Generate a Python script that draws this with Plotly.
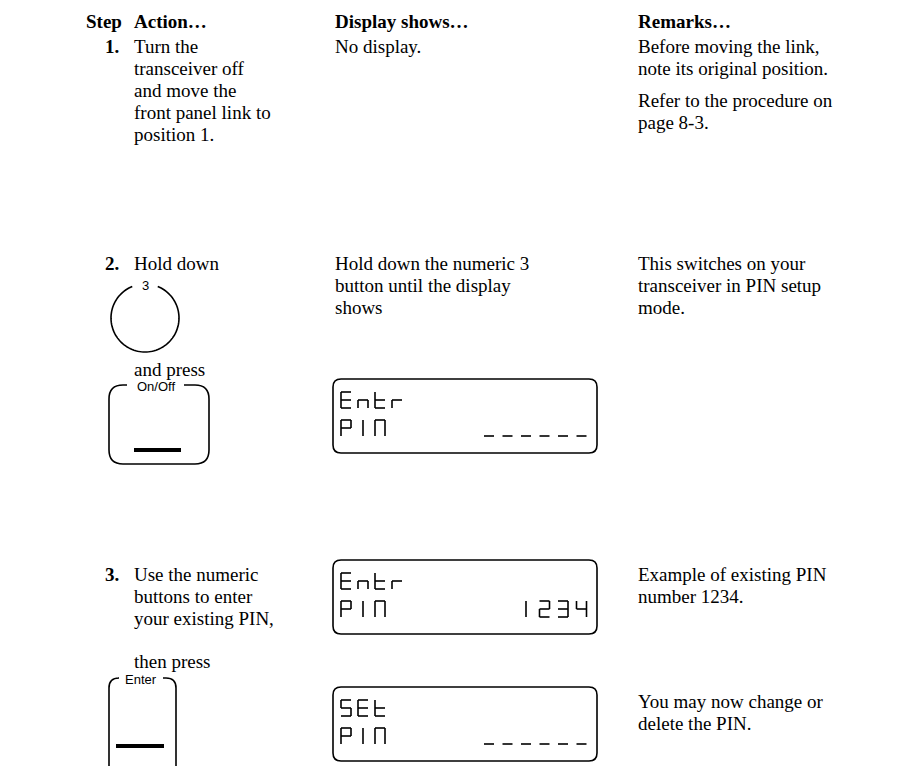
import math
import plotly.graph_objects as go

W, H = 912, 766
SERIF = "Liberation Serif, Times New Roman, serif"
SANS = "Liberation Sans, Arial, sans-serif"
FS = 19
LH = 22

# ---------------- content ----------------
headers = ["Step", "Action…", "Display shows…", "Remarks…"]
step_labels = ["1.", "2.", "3."]

action_row1 = ["Turn the", "transceiver off", "and move the", "front panel link to", "position 1."]
action_row2a = ["Hold down"]
action_row2b = ["and press"]
action_row3a = ["Use the numeric", "buttons to enter", "your existing PIN,"]
action_row3b = ["then press"]

display_row1 = ["No display."]
display_row2 = ["Hold down the numeric 3", "button until the display", "shows"]

remarks_row1a = ["Before moving the link,", "note its original position."]
remarks_row1b = ["Refer to the procedure on", "page 8-3."]
remarks_row2 = ["This switches on your", "transceiver in PIN setup", "mode."]
remarks_row3a = ["Example of existing PIN", "number 1234."]
remarks_row3b = ["You may now change or", "delete the PIN."]

button_labels = ["3", "On/Off", "Enter"]

lcd_line1 = ["Entr", "Entr", "SEt"]
lcd_line2_left = ["PIN", "PIN", "PIN"]
lcd_line2_right = ["______", "  1234", "______"]

# ---------------- layout (pixels) ----------------
col_x = [76, 124, 325, 628]
step_x = 95
header_y = 13
row_y = [38, 255, 566]

annotations = []
shapes = []


def text(x, y, s, size=FS, bold=False, family=SERIF, anchor="left"):
    annotations.append(dict(
        x=x, y=y, xref="x", yref="y", text=("<b>%s</b>" % s) if bold else s,
        showarrow=False, xanchor=anchor, yanchor="middle",
        font=dict(family=family, size=size, color="black"),
    ))


def block(x, y0, lines):
    for i, s in enumerate(lines):
        text(x, y0 + i * LH, s)


for hx, h in zip(col_x, headers):
    text(hx, header_y, h, bold=True)
for sy, s in zip(row_y, step_labels):
    text(step_x, sy, s, bold=True)

block(col_x[1], row_y[0], action_row1)
block(col_x[1], row_y[1], action_row2a)
block(col_x[1], 361, action_row2b)
block(col_x[1], row_y[2], action_row3a)
block(col_x[1], 653, action_row3b)

block(col_x[2], row_y[0], display_row1)
block(col_x[2], row_y[1], display_row2)

block(col_x[3], row_y[0], remarks_row1a)
block(col_x[3], 92, remarks_row1b)
block(col_x[3], row_y[1], remarks_row2)
block(col_x[3], 566, remarks_row3a)
block(col_x[3], 693, remarks_row3b)


def seg_line(x0, y0, x1, y1, width=2):
    shapes.append(dict(type="line", xref="x", yref="y", x0=x0, y0=y0, x1=x1, y1=y1,
                       line=dict(color="black", width=width)))


def path(d, width=2):
    shapes.append(dict(type="path", xref="x", yref="y", path=d,
                       line=dict(color="black", width=width)))


# ---- circular "3" button with a gap at top ----
cx, cy, r = 137, 310, 34
pts = []
for k in range(0, 101):
    ang = math.radians(112 + k * (316 / 100.0))
    pts.append((cx + r * math.cos(ang), cy - r * math.sin(ang)))
path("M " + " L ".join("%.2f,%.2f" % p for p in pts), width=1.6)
text(cx, cy - r + 1, button_labels[0], size=13, family=SANS, anchor="center")


# ---- rounded button with label gap ----
def rbutton(x0, x1, y0, y1, rad, g0, g1, label, bar_y, bar_x0, bar_x1):
    d = ("M %f,%f L %f,%f Q %f,%f %f,%f L %f,%f Q %f,%f %f,%f L %f,%f Q %f,%f %f,%f "
         "L %f,%f Q %f,%f %f,%f L %f,%f") % (
        g0, y0, x0 + rad, y0, x0, y0, x0, y0 + rad,
        x0, y1 - rad, x0, y1, x0 + rad, y1,
        x1 - rad, y1, x1, y1, x1, y1 - rad,
        x1, y0 + rad, x1, y0, x1 - rad, y0,
        g1, y0)
    path(d, width=1.6)
    text((g0 + g1) / 2.0, y0 + 1, label, size=13, family=SANS, anchor="center")
    seg_line(bar_x0, bar_y, bar_x1, bar_y, width=4)


rbutton(101, 201, 377, 456, 14, 119, 176, button_labels[1], 442, 126, 173)
rbutton(101, 168, 670, 775, 10, 110, 155, button_labels[2], 738, 108, 156)

# ---- LCD displays (seven-segment) ----
SEGS = {
    "E": "adefg", "n": "ceg", "t": "defg", "r": "eg", "P": "abefg", "I": "m",
    "N": "abcef", "S": "acdfg", "1": "m", "2": "abdeg", "3": "abcdg", "4": "bcfg",
    "_": "d", " ": "",
}


def seven(ch, x0, y0, w=10, h=16):
    ym = y0 + h / 2.0
    xm = x0 + w / 2.0
    coords = {
        "a": (x0, y0, x0 + w, y0), "b": (x0 + w, y0, x0 + w, ym),
        "c": (x0 + w, ym, x0 + w, y0 + h), "d": (x0, y0 + h, x0 + w, y0 + h),
        "e": (x0, ym, x0, y0 + h), "f": (x0, y0, x0, ym), "g": (x0, ym, x0 + w, ym),
        "m": (xm, y0, xm, y0 + h),
    }
    for s in SEGS[ch]:
        seg_line(*coords[s], width=1.6)


lcd_tops = [371, 552, 679]
LX0, LX1, LHGT, LR = 325, 589, 74, 8
for top, l1, l2a, l2b in zip(lcd_tops, lcd_line1, lcd_line2_left, lcd_line2_right):
    bot = top + LHGT
    d = ("M %f,%f L %f,%f Q %f,%f %f,%f L %f,%f Q %f,%f %f,%f L %f,%f Q %f,%f %f,%f "
         "L %f,%f Q %f,%f %f,%f Z") % (
        LX0 + LR, top, LX1 - LR, top, LX1, top, LX1, top + LR,
        LX1, bot - LR, LX1, bot, LX1 - LR, bot,
        LX0 + LR, bot, LX0, bot, LX0, bot - LR,
        LX0, top + LR, LX0, top, LX0 + LR, top)
    path(d, width=1.6)
    for i, ch in enumerate(l1):
        seven(ch, LX0 + 8 + i * 17, top + 13)
    for i, ch in enumerate(l2a):
        seven(ch, LX0 + 8 + i * 17, top + 41)
    for i, ch in enumerate(l2b):
        seven(ch, LX1 - 113 + i * 18.5, top + 41)

fig = go.Figure()
fig.update_layout(
    width=W, height=H, margin=dict(l=0, r=0, t=0, b=0),
    paper_bgcolor="white", plot_bgcolor="white",
    xaxis=dict(range=[0, W], visible=False, fixedrange=True),
    yaxis=dict(range=[H, 0], visible=False, fixedrange=True),
    annotations=annotations, shapes=shapes, showlegend=False,
)
fig.write_html("out.html")
